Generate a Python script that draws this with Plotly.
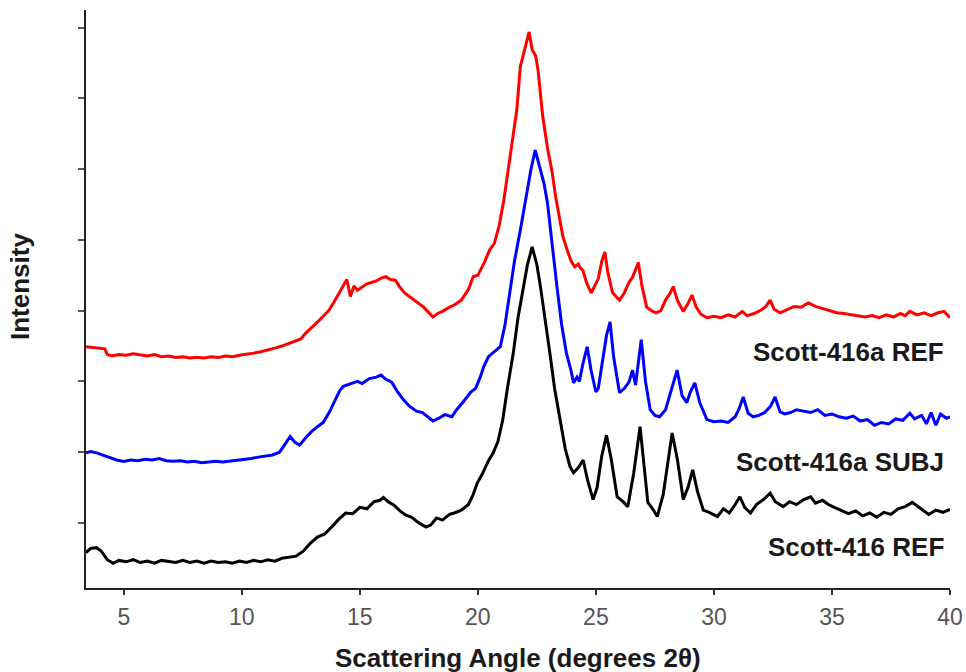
import plotly.graph_objects as go

# ---- data (2-theta in degrees, intensity in arbitrary stacked units) ----
red_x = [3.40, 3.60, 3.90, 4.20, 4.30, 4.50, 4.80, 5.10, 5.40, 5.70, 6.00, 6.30, 6.60, 6.90, 7.20, 7.50,
         7.80, 8.10, 8.40, 8.70, 9.00, 9.30, 9.60, 9.90, 10.20, 10.50, 10.80, 11.10, 11.40, 11.70, 12.00,
         12.30, 12.50, 12.70, 12.90, 13.10, 13.30, 13.50, 13.70, 13.90, 14.10, 14.30, 14.45, 14.60, 14.75,
         14.90, 15.10, 15.30, 15.50, 15.70, 15.90, 16.10, 16.30, 16.50, 16.70, 16.90, 17.10, 17.30, 17.50,
         17.70, 17.90, 18.10, 18.30, 18.50, 18.80, 19.00, 19.30, 19.60, 19.80, 20.00, 20.30, 20.50, 20.70,
         20.90, 21.10, 21.30, 21.50, 21.65, 21.80, 22.00, 22.17, 22.30, 22.45, 22.55, 22.75, 22.95, 23.15,
         23.30, 23.45, 23.60, 23.78, 23.95, 24.10, 24.25, 24.35, 24.45, 24.60, 24.80, 24.95, 25.10, 25.25,
         25.38, 25.50, 25.70, 25.85, 26.00, 26.20, 26.40, 26.55, 26.80, 26.95, 27.15, 27.35, 27.55, 27.75,
         27.95, 28.15, 28.28, 28.45, 28.70, 28.90, 29.07, 29.25, 29.45, 29.70, 30.00, 30.30, 30.60, 30.90,
         31.20, 31.40, 31.70, 32.00, 32.20, 32.38, 32.55, 32.80, 33.10, 33.40, 33.70, 34.00, 34.30, 34.60,
         34.90, 35.20, 35.50, 35.80, 36.10, 36.40, 36.70, 37.00, 37.30, 37.60, 37.90, 38.10, 38.30, 38.60,
         38.90, 39.20, 39.50, 39.75, 40.00]
red_y = [2490, 2480, 2470, 2460, 2380, 2360, 2380, 2370, 2390, 2370, 2360, 2380, 2350, 2360, 2340, 2350,
         2330, 2340, 2330, 2350, 2340, 2360, 2350, 2370, 2380, 2400, 2420, 2440, 2470, 2500, 2540,
         2570, 2600, 2680, 2740, 2800, 2870, 2940, 3010, 3120, 3230, 3340, 3440, 3200, 3350,
         3290, 3340, 3380, 3400, 3420, 3460, 3480, 3440, 3430, 3330, 3250, 3200, 3150, 3100,
         3050, 2980, 2910, 2960, 2990, 3050, 3080, 3150, 3300, 3480, 3500, 3700, 3860, 3950,
         4200, 4560, 5000, 5500, 5840, 6450, 6700, 6940, 6690, 6600, 6400, 5740, 5300, 4950,
         4600, 4330, 4050, 3860, 3700, 3620, 3660, 3600, 3570, 3400, 3250, 3350, 3450, 3700,
         3830, 3550, 3260, 3200, 3150, 3250, 3400, 3470, 3680, 3350, 3050, 3000, 2970, 3000,
         3150, 3250, 3340, 3150, 2990, 3100, 3220, 3050, 2950, 2900, 2920, 2900, 2940, 2910,
         2990, 2930, 2960, 3010, 3060, 3150, 3020, 2970, 3020, 3060, 3050, 3110, 3060, 3030,
         2990, 2970, 2960, 2940, 2930, 2910, 2930, 2900, 2940, 2910, 2960, 2930, 2990, 2940,
         2970, 2930, 2970, 2990, 2900]

blue_x = [3.40, 3.60, 3.85, 4.10, 4.40, 4.70, 5.00, 5.30, 5.60, 5.90, 6.20, 6.50, 6.80, 7.10, 7.40, 7.70,
          8.00, 8.30, 8.60, 8.90, 9.20, 9.50, 9.80, 10.10, 10.40, 10.70, 11.00, 11.30, 11.60, 11.90, 12.05,
          12.25, 12.45, 12.70, 12.95, 13.20, 13.45, 13.70, 13.95, 14.15, 14.30, 14.60, 14.90, 15.10, 15.40,
          15.70, 15.90, 16.10, 16.35, 16.60, 16.85, 17.10, 17.40, 17.65, 17.90, 18.10, 18.35, 18.60, 18.90,
          19.10, 19.40, 19.70, 19.90, 20.10, 20.25, 20.45, 20.70, 20.95, 21.15, 21.35, 21.55, 21.80, 22.05,
          22.25, 22.43, 22.60, 22.80, 22.95, 23.15, 23.35, 23.55, 23.75, 23.95, 24.05, 24.20, 24.30, 24.45,
          24.63, 24.80, 25.00, 25.10, 25.30, 25.45, 25.60, 25.75, 26.00, 26.20, 26.40, 26.55, 26.68, 26.78,
          26.92, 27.10, 27.30, 27.50, 27.70, 27.95, 28.20, 28.44, 28.65, 28.85, 29.00, 29.19, 29.40, 29.70,
          30.00, 30.30, 30.60, 30.90, 31.05, 31.24, 31.45, 31.66, 31.90, 32.15, 32.40, 32.59, 32.80, 33.00,
          33.25, 33.50, 33.80, 34.10, 34.40, 34.70, 35.00, 35.30, 35.60, 35.90, 36.20, 36.50, 36.80, 37.10,
          37.40, 37.70, 38.00, 38.30, 38.50, 38.80, 39.00, 39.20, 39.40, 39.60, 39.85, 40.00]
blue_y = [990, 1010, 990, 960, 920, 890, 870, 890, 880, 900, 890, 910, 880, 870, 880, 860,
          870, 850, 860, 870, 860, 870, 880, 900, 910, 930, 950, 960, 1000, 1150, 1220,
          1140, 1100, 1200, 1290, 1360, 1420, 1560, 1720, 1870, 1930, 1960, 2000, 1970, 2040,
          2060, 2090, 2030, 1990, 1850, 1740, 1650, 1580, 1560, 1500, 1440, 1480, 1530, 1500,
          1600, 1720, 1850, 1900, 2060, 2210, 2350, 2420, 2490, 2800, 3250, 3700, 4140, 4600,
          5000, 5270, 5050, 4800, 4520, 3900, 3340, 2800, 2400, 2150, 1980, 2060, 2000, 2250,
          2490, 2150, 1850, 1900, 2300, 2650, 2840, 2350, 1840, 1900, 1990, 2160, 1950, 2200,
          2590, 2000, 1600, 1520, 1500, 1600, 1900, 2160, 1800, 1700, 1850, 1980, 1700, 1460,
          1430, 1440, 1420, 1500, 1600, 1780, 1550, 1500, 1520, 1560, 1650, 1780, 1570, 1540,
          1560, 1600, 1580, 1560, 1600, 1520, 1540, 1500, 1480, 1510, 1440, 1460, 1380, 1420,
          1400, 1470, 1450, 1550, 1470, 1520, 1400, 1560, 1380, 1540, 1480, 1500]

black_x = [3.40, 3.60, 3.85, 4.05, 4.30, 4.55, 4.80, 5.10, 5.40, 5.70, 6.00, 6.30, 6.60, 6.90, 7.20, 7.50,
           7.80, 8.10, 8.40, 8.70, 9.00, 9.30, 9.60, 9.90, 10.20, 10.50, 10.80, 11.10, 11.40, 11.70, 12.00,
           12.30, 12.60, 12.90, 13.20, 13.50, 13.80, 14.10, 14.40, 14.70, 15.00, 15.30, 15.60, 15.85, 16.00,
           16.20, 16.45, 16.70, 16.95, 17.20, 17.50, 17.80, 18.00, 18.25, 18.50, 18.80, 19.00, 19.30, 19.60,
           19.80, 19.97, 20.20, 20.45, 20.65, 20.85, 21.05, 21.25, 21.50, 21.70, 21.92, 22.10, 22.30, 22.50,
           22.65, 22.85, 23.05, 23.25, 23.48, 23.70, 23.90, 24.05, 24.25, 24.46, 24.65, 24.88, 25.05, 25.25,
           25.45, 25.65, 25.90, 26.15, 26.35, 26.60, 26.87, 27.05, 27.20, 27.40, 27.60, 27.85, 28.05, 28.23,
           28.45, 28.70, 28.90, 29.10, 29.30, 29.55, 29.80, 30.15, 30.40, 30.65, 30.90, 31.10, 31.30, 31.55,
           31.80, 32.10, 32.38, 32.60, 32.93, 33.20, 33.50, 33.80, 34.10, 34.30, 34.60, 34.85, 35.10, 35.40,
           35.70, 36.00, 36.30, 36.60, 36.90, 37.20, 37.50, 37.80, 38.10, 38.40, 38.60, 38.90, 39.10, 39.40,
           39.70, 40.00]
black_y = [-420, -360, -350, -400, -520, -570, -530, -550, -520, -560, -540, -570, -530, -550, -560, -530,
           -560, -540, -570, -540, -560, -550, -570, -540, -560, -530, -550, -520, -540, -500, -490,
           -470, -400, -290, -200, -160, -60, 50, 140, 130, 220, 200, 300, 320, 360,
           300, 250, 170, 110, 80, 0, -60, -30, 70, 40, 120, 140, 180, 260,
           400, 560, 700, 880, 990, 1150, 1450, 1900, 2400, 2900, 3340, 3650, 3900, 3650,
           3340, 2900, 2400, 1900, 1460, 1050, 800, 710, 780, 890, 600, 330, 500, 950,
           1240, 900, 370, 300, 230, 700, 1360, 800, 290, 200, 90, 400, 900, 1270,
           900, 330, 500, 750, 450, 180, 150, 90, 200, 140, 260, 370, 220, 140,
           260, 330, 420, 300, 230, 300, 260, 330, 370, 280, 320, 260, 220, 180,
           130, 170, 100, 140, 80, 150, 120, 200, 230, 290, 240, 160, 120, 180,
           150, 190]

series_names = ["Scott-416a REF", "Scott-416a SUBJ", "Scott-416 REF"]
series_colors = ["#ff0000", "#0000ff", "#000000"]
x_ticks = [5, 10, 15, 20, 25, 30, 35, 40]
y_ticks = [0, 1000, 2000, 3000, 4000, 5000, 6000, 7000]
x_title = "Scattering Angle (degrees 2θ)"
y_title = "Intensity"

fig = go.Figure()
for xs, ys, name, col in zip([red_x, blue_x, black_x], [red_y, blue_y, black_y],
                             series_names, series_colors):
    fig.add_trace(go.Scatter(x=xs, y=ys, mode="lines", name=name,
                             line=dict(color=col, width=3)))

label_font = dict(family="Liberation Sans, Arial, sans-serif", size=26, color="#1a1a1a")
label_y = [0.408, 0.218, 0.071]
annotations = []
for name, ly in zip(series_names, label_y):
    annotations.append(dict(text="<b>%s</b>" % name, xref="paper", yref="paper",
                            x=0.9954, y=ly, xanchor="right", yanchor="middle",
                            showarrow=False, font=label_font))
annotations.append(dict(text="<b>%s</b>" % x_title, xref="paper", yref="paper",
                        x=0.5, y=-0.121, xanchor="center", yanchor="middle",
                        showarrow=False, font=label_font))
annotations.append(dict(text="<b>%s</b>" % y_title, xref="paper", yref="paper",
                        x=-0.0764, y=0.5225, xanchor="center", yanchor="middle",
                        textangle=-90, showarrow=False, font=label_font))

fig.update_layout(
    width=966, height=672,
    margin=dict(l=86, r=16, t=10, b=84, autoexpand=False),
    paper_bgcolor="white", plot_bgcolor="white",
    showlegend=False,
    annotations=annotations,
    font=dict(family="Liberation Sans, Arial, sans-serif"),
)
fig.update_xaxes(range=[3.4, 40], tickvals=x_ticks, ticks="outside", ticklen=5, tickwidth=1.5,
                 tickcolor="#333", showline=True, linecolor="#222", linewidth=2, showgrid=False,
                 zeroline=False, tickfont=dict(size=23, color="#555"), ticklabelstandoff=2,
                 automargin=False)
fig.update_yaxes(range=[-920, 7250], tickvals=y_ticks, ticks="outside", ticklen=6, tickwidth=1.5,
                 tickcolor="#555", showline=True, linecolor="#222", linewidth=2, showgrid=False,
                 zeroline=False, showticklabels=False, automargin=False)

fig.write_html("out.html", config={"displayModeBar": False},
               post_script="document.body.style.margin='0px';")
